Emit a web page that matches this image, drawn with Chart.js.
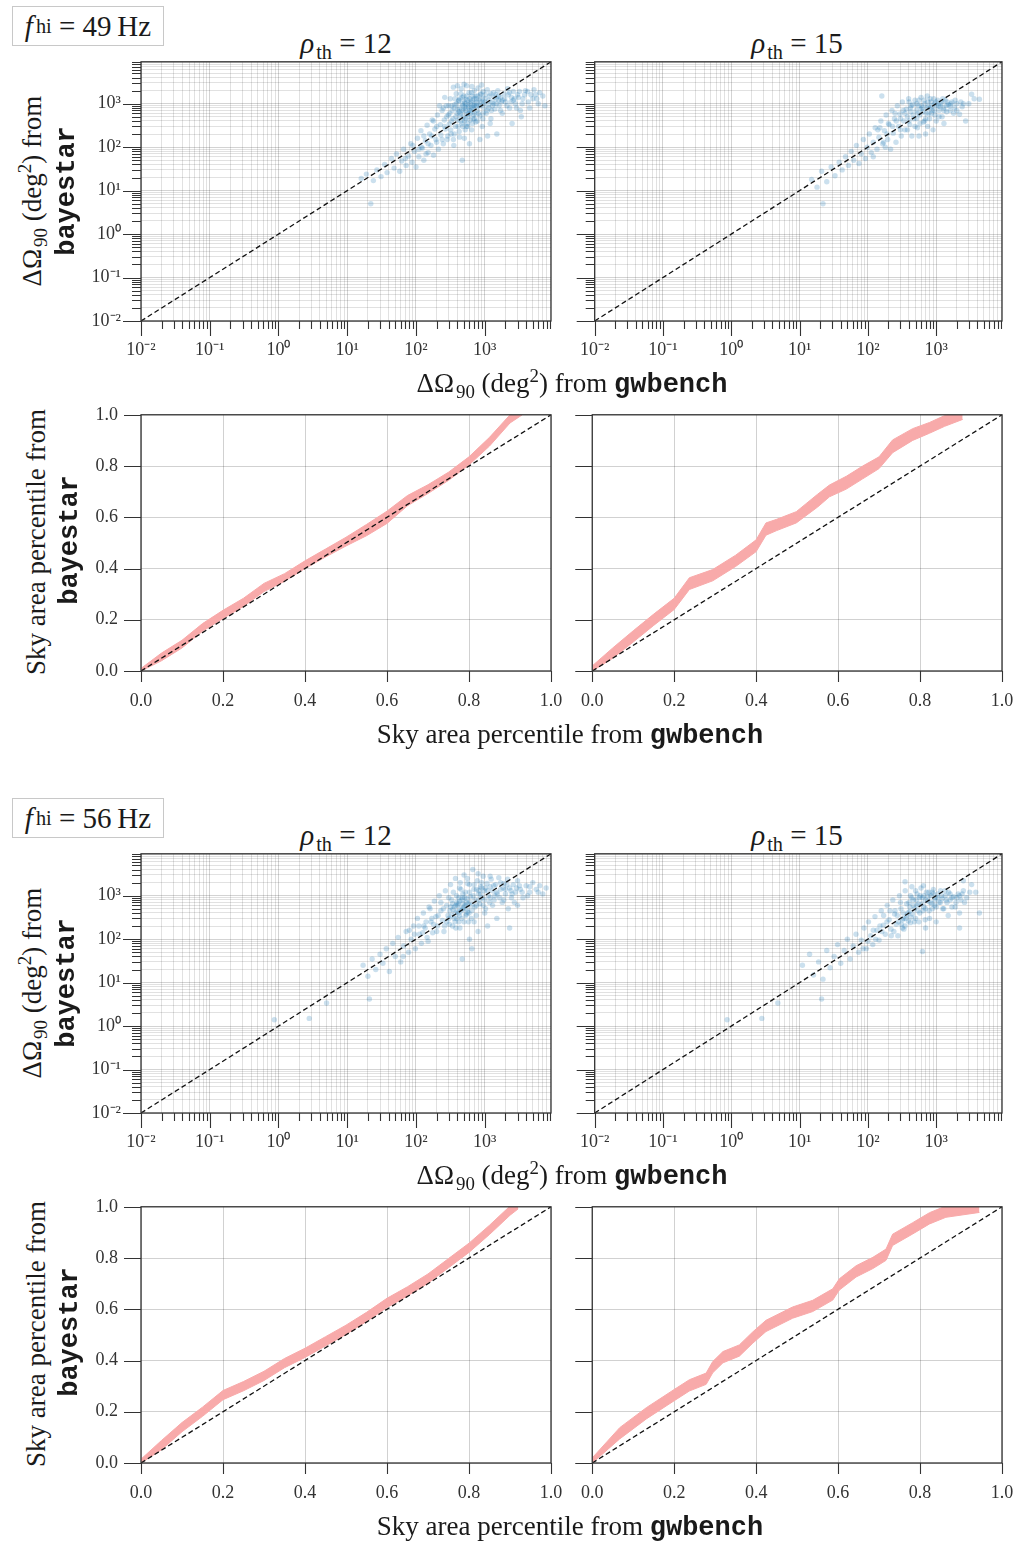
<!DOCTYPE html>
<html>
<head>
<meta charset="utf-8">
<script src="https://cdn.jsdelivr.net/npm/chart.js@4.4.1/dist/chart.umd.min.js"></script>
<style>
  body { margin: 0; background: #fff; }
  #fig { position: relative; width: 1016px; height: 1543px; overflow: hidden; background: #fff; }
  canvas { position: absolute; }
  .t { position: absolute; font-family: 'Liberation Serif', serif; font-size: 27px; color: #1a1a1a;
       white-space: nowrap; line-height: 1; transform: translate(-50%, -50%); }
  .ttl { font-size: 29px; }
  .rot { transform: translate(-50%, -50%) rotate(-90deg); }
  .tt { font-family: 'Liberation Mono', monospace; font-weight: bold; }
  .t sub { font-size: 70%; vertical-align: -0.3em; line-height: 0; margin-left: 2px; }
  .box sub { font-size: 70%; vertical-align: -0.3em; line-height: 0; margin-left: 3px; }
  .t sup { font-size: 70%; vertical-align: 0.5em; line-height: 0; }
  .box { position: absolute; border: 1px solid #c8c8c8; font-family: 'Liberation Serif', serif;
         font-size: 29px; color: #1a1a1a; display: flex; align-items: center; justify-content: center;
         line-height: 1; white-space: nowrap; background: #fff; }
</style>
</head>
<body>
<div id="fig"></div>
<script>
// ---- data ----
const fhiLabels = ['49', '56'];
const rhoLabels = ['12', '15'];
const logTickDecades = [0.01, 0.1, 1, 10, 100, 1000];
const logTickLabels = ['10\u207B\u00B2', '10\u207B\u00B9', '10\u2070', '10\u00B9', '10\u00B2', '10\u00B3'];
const logMultipliers = [1, 2, 3, 4, 5, 6, 7, 8, 9];
const logMin = 0.01;
const logMax = 9200;
const ppTicks = [0, 0.2, 0.4, 0.6, 0.8, 1.0];

// [gwbench, bayestar] sky areas (deg^2)
const sc49_12 = [
  [22,5],[16,19],[19,24],[24,17],[27,30],[31,21],[35,40],[38,26],[44,55],[48,33],[52,70],[58,28],[62,48],[66,90],
  [72,38],[78,62],[84,120],[88,45],[95,80],[100,35],[105,160],[110,60],[118,240],[124,95],[130,50],[137,140],
  [145,320],[150,75],[158,200],[165,110],[172,420],[180,65],[188,260],[195,150],[205,550],[212,90],[220,900],
  [226,330],[230,190],[240,700],[250,120],[258,420],[262,1400],[268,260],[275,900],[285,150],[295,550],[305,340],
  [315,1300],[325,200],[335,700],[345,450],[350,2400],[355,110],[365,950],[375,300],[385,1700],[395,600],
  [400,2600],[405,420],[415,1150],[425,230],[435,800],[445,520],[455,2200],[465,350],[470,50],[475,1000],
  [485,680],[495,1500],[500,2800],[505,160],[515,850],[525,450],[535,1250],[545,2600],[555,580],[565,300],
  [575,950],[590,1800],[600,700],[600,120],[615,420],[630,1100],[645,250],[650,2500],[660,1500],[675,800],
  [690,550],[705,2000],[720,1000],[740,380],[760,1300],[780,700],[800,2300],[820,900],[845,520],[850,150],
  [870,1600],[895,1100],[900,2700],[920,300],[950,1900],[980,800],[1010,1300],[1050,600],[1090,2100],
  [1100,180],[1130,950],[1180,1500],[1230,450],[1280,1100],[1340,1800],[1400,750],[1470,1300],[1500,200],
  [1550,2000],[1620,900],[1700,1400],[1800,600],[1900,1700],[2000,1100],[2150,2200],[2300,800],[2450,1400],
  [2500,350],[2600,1900],[2800,1000],[3000,1600],[3300,700],[3400,500],[3600,1300],[3900,2000],[4300,1100],
  [4700,1600],[5200,2100],[5700,1300],[6300,1800],[7000,1500],[7500,900],[420,650],[480,900],[530,700],
  [380,500],[560,1200],[620,600],[700,1300],[330,400],[440,1300],[510,400],[580,850],[680,450],[760,900],
  [310,600],[360,800],[410,300],[460,700],[520,1000],[570,500],[640,800],[720,600],[830,1200],[950,600],
  [1150,800],[1350,1000],[1600,1200],[2100,900],[2700,1300],[3500,1000],[4500,800],[260,300],[300,900],
  [390,1000],[450,400],[540,300],[610,1300],[700,900],[780,400],[880,1700],[1000,1100],[1250,700],
  [1450,1600],[1800,1200],[2400,1100],[3200,1900],[5000,1300],[6000,1000],[240,150],[200,300],[170,180],
  [140,70],[120,100],[350,150],[430,170],[520,250],[660,350],
  [420,1200],[440,600],[470,1400],[490,500],[510,1100],[530,800],[550,1500],[580,600],[610,1000],[630,700],
  [660,1200],[690,900],[730,1500],[770,1100],[810,600],[860,900],[910,1300],[960,1000],[1020,1600],[1080,700],
  [1150,1200],[1220,1700],[1300,900],[1380,1400],[1480,1000],[1580,1500],[1750,1100],[1950,1300],[2200,1600],
  [2600,1200],[3100,1400],[3800,1600],[4200,1900],[5500,1600],[330,900],[370,1300],[400,750],[450,1700],
  [480,300],[560,350],[640,1800],[710,450],[790,1500],[940,450],[1200,350],[1700,700],[2300,1800],[2900,800],
  [280,500],[320,250],[250,800],[290,180],[360,200],[200,130],[180,400],[150,120],[130,180],[110,90],[90,110],[70,55]
];
const sc49_15 = [
  [22,5],[15,18],[18,12],[21,28],[25,16],[29,35],[33,22],[38,45],[42,30],[47,60],[52,38],[57,80],[62,50],
  [68,110],[74,42],[80,70],[86,150],[92,55],[98,100],[105,200],[112,75],[120,130],[128,280],[136,90],[145,170],
  [155,400],[160,1500],[165,120],[175,240],[185,550],[195,150],[205,330],[215,90],[225,700],[235,210],[245,450],
  [258,130],[270,900],[282,300],[295,580],[308,180],[320,1100],[335,400],[350,250],[365,750],[380,500],
  [395,1300],[410,330],[425,650],[440,180],[455,950],[470,450],[490,1200],[510,700],[530,280],[550,900],
  [575,550],[600,1400],[625,800],[650,380],[680,1000],[710,600],[740,1500],[770,850],[800,450],[840,1100],
  [880,700],[920,1300],[960,550],[1000,900],[1050,1200],[1100,700],[1160,1000],[1220,500],[1280,800],
  [1350,1200],[1420,650],[1500,950],[1600,700],[1700,1100],[1850,800],[2000,1000],[2200,570],[2400,850],
  [1300,350],[900,250],[700,200],[3300,1650],[3600,1300],[4300,1270],[2700,400],
  [300,450],[380,250],[430,900],[520,450],[600,750],[680,400],[760,1100],[850,600],[950,1000],[1100,500],
  [1250,1300],[1400,900],[1650,1000],[2000,700],[2500,1000],[200,350],[250,600],[330,700],[560,1200],
  [820,800],[1150,850],[1800,600],[140,250],[180,100],[120,60],
  [350,600],[400,400],[420,800],[460,550],[490,300],[520,1000],[540,600],[580,350],[610,900],[640,650],
  [670,1200],[700,450],[730,800],[780,600],[820,1300],[870,900],[930,700],[990,1100],[1080,900],[1200,1100],
  [1300,700],[1450,1100],[1600,900],[1900,1200],[2300,1100],[3000,1000],[300,250],[260,400],[230,300],
  [190,200],[170,130],[150,280],[400,1100],[560,180],[750,300],[1000,400]
];
const sc56_12 = [
  [0.87,1.4],[2.8,1.5],[5,3.4],[21,4.2],[17,25],[20,14],[23,35],[26,20],[30,45],[33,28],[37,60],[41,18],
  [46,80],[50,40],[55,110],[60,30],[66,70],[72,150],[78,50],[85,100],[92,200],[98,60],[105,300],[112,130],
  [120,80],[128,400],[136,180],[145,110],[155,550],[165,250],[175,140],[185,750],[195,330],[205,200],
  [218,1000],[230,450],[242,270],[255,150],[268,1300],[280,600],[292,350],[305,220],[318,1800],[330,800],
  [345,480],[360,300],[375,2500],[390,1000],[405,600],[420,400],[435,180],[450,1400],[465,800],[470,35],
  [480,500],[500,3000],[520,1200],[540,700],[560,420],[580,250],[600,1800],[620,950],[645,600],[650,60],
  [670,4000],[695,1400],[720,800],[750,350],[780,2200],[810,1100],[840,650],[875,1600],[910,900],[950,2800],
  [990,1300],[1030,500],[1080,1900],[1130,1000],[1180,700],[1240,2400],[1300,1300],[1370,800],[1440,1800],
  [1520,1100],[1600,2600],[1700,1400],[1800,700],[1900,1900],[2000,1100],[2150,2400],[2300,1500],[2300,180],
  [2450,900],[2600,1800],[2800,1200],[3000,2200],[3300,1400],[3600,900],[4000,1700],[4500,1200],[5000,2000],
  [5600,1400],[6300,1700],[7000,1100],[7800,1500],[1500,300],[1100,200],[800,150],[600,100],[2200,500],
  [3000,600],[310,450],[340,650],[370,250],[400,440],[430,750],[460,300],[500,550],[530,350],[570,650],
  [380,180],[420,900],[480,1100],[550,500],[350,1200],
  [330,350],[360,550],[390,700],[420,250],[450,500],[480,650],[510,900],[540,380],[600,1200],[650,450],
  [700,1800],[760,600],[820,1300],[900,1500],[1000,800],[1200,1600],[1400,1000],[1700,2000],[2000,1400],
  [2500,1100],[3200,1700],[4200,1000],[250,500],[280,250],[300,900],[200,150],[170,300],[150,90],[130,200],
  [700,250],[1000,400],[1300,600],[1900,800],[2700,700],[560,2500],[800,3200],[440,2000],
  [300,300],[320,550],[340,200],[370,400],[390,300],[410,650],[430,350],[460,450],[470,900],[500,250],
  [520,600],[550,850],[590,400],[610,700],[640,300],[680,1000],[720,550],[760,1400],[820,800],[880,1100],
  [950,600],[1020,1500],[1100,1300],[1200,900],[1350,1700],[1500,1200],[1650,900],[1850,1500],[2100,1800],
  [2400,1300],[2900,1500],[3500,1200],[4500,1600],[6000,1200],[260,200],[230,700],[210,350],[180,220],
  [160,500],[140,250],[125,140],[110,200],[95,130],[80,160],[65,40],[430,1500],[560,1900],[900,2000],
  [1200,2800],[380,600]
];
const sc56_15 = [
  [0.87,1.4],[2.8,1.5],[4.8,3.4],[21,4.2],[11,25],[14,45],[16,15],[19,30],[22,12],[25,55],[28,22],[32,40],
  [36,75],[40,28],[45,55],[50,100],[55,35],[61,70],[67,130],[73,50],[80,95],[88,180],[95,60],[102,250],
  [110,120],[118,75],[127,330],[136,160],[146,95],[157,450],[168,210],[180,130],[192,600],[205,280],[218,170],
  [232,800],[246,380],[260,220],[275,120],[290,1000],[305,500],[320,280],[320,180],[336,170],[350,2100],
  [352,1300],[370,650],[388,400],[405,430],[420,240],[440,1600],[460,800],[480,500],[500,300],[525,1100],
  [550,650],[575,400],[600,1500],[630,900],[630,52],[660,550],[690,280],[720,1200],[755,750],[790,450],
  [830,1000],[870,650],[910,1400],[950,800],[1000,550],[1050,1100],[1100,700],[1160,1300],[1220,850],
  [1290,500],[1360,1000],[1440,700],[1520,1200],[1600,800],[1700,550],[1800,950],[1950,700],[2100,1100],
  [2200,180],[2300,800],[2500,1300],[2800,900],[3100,1200],[3300,1800],[3800,1200],[4300,400],[2200,400],
  [1500,350],[1000,250],[700,180],[2500,2200],
  [330,400],[360,300],[400,700],[450,380],[520,600],[570,900],[640,450],[700,800],[780,1200],[880,500],
  [980,900],[1150,700],[1350,1300],[1700,900],[2200,1000],[270,350],[240,150],[210,450],[300,700],[420,1000],
  [500,1300],[650,1700],[900,1100],[1250,500],[1900,550],[2600,700],[160,150],[130,100],
  [310,220],[330,300],[350,200],[370,350],[390,260],[410,550],[430,320],[460,600],[480,250],[510,800],
  [540,450],[580,1000],[620,650],[660,1000],[700,500],[760,950],[820,700],[880,1200],[950,600],[1050,900],
  [1200,1000],[1400,800],[1600,1100],[2000,900],[2400,1100],[280,250],[250,450],[220,120],[190,250],
  [170,350],[150,200],[120,160],[100,90],[85,60],[440,900],[560,250],[800,300]
];

// percentile bands: x, lower, upper
const pp49_12x  = [0, .05, .1, .15, .2, .25, .3, .35, .4, .45, .5, .55, .6, .65, .7, .75, .8, .85, .9, .93];
const pp49_12lo = [0, .04, .09, .155, .205, .252, .31, .35, .4, .445, .488, .528, .576, .645, .693, .744, .804, .878, .968, 1.0];
const pp49_12hi = [.01, .07, .12, .185, .237, .284, .342, .38, .43, .476, .522, .572, .624, .685, .727, .776, .836, .912, 1.0, 1.04];

const pp49_15x  = [0, .05, .1, .15, .2, .237, .294, .35, .4, .424, .45, .498, .55, .579, .62, .66, .70, .733, .782, .823, .86, .904];
const pp49_15lo = [0, .05, .113, .178, .24, .318, .352, .408, .466, .53, .548, .578, .64, .68, .71, .75, .79, .852, .9, .928, .955, .982];
const pp49_15hi = [.02, .09, .157, .222, .284, .364, .396, .452, .512, .578, .592, .622, .69, .726, .76, .8, .836, .902, .946, .97, .997, 1.02];

const pp56_12x  = [0, .05, .1, .15, .2, .25, .3, .35, .4, .45, .5, .55, .6, .65, .7, .75, .8, .85, .9, .92];
const pp56_12lo = [0, .052, .122, .182, .247, .282, .322, .372, .412, .457, .502, .552, .607, .652, .702, .762, .822, .892, .967, .992];
const pp56_12hi = [.015, .088, .158, .218, .283, .318, .358, .408, .448, .493, .538, .588, .643, .688, .738, .798, .858, .928, 1.003, 1.03];

const pp56_15x  = [0, .067, .132, .2, .237, .278, .294, .319, .359, .392, .424, .489, .538, .587, .603, .644, .685, .717, .733, .782, .823, .863, .945];
const pp56_15lo = [0, .094, .172, .243, .281, .307, .352, .391, .417, .468, .513, .565, .591, .636, .675, .726, .759, .791, .849, .894, .933, .959, .978];
const pp56_15hi = [.02, .138, .216, .287, .325, .351, .396, .435, .461, .512, .557, .609, .635, .68, .719, .77, .803, .835, .893, .938, .977, 1.003, 1.022];

// ---- styling ----
const BAND = 'rgb(248,170,170)';
const DOT = 'rgba(31,119,180,0.23)';
const tickFont = { family: "'Liberation Serif', serif", size: 18 };
Chart.defaults.font.family = "'Liberation Serif', serif";

const fig = document.getElementById('fig');

// frame + tick marks (major/minor lengths differ)
const frameTicks = {
  id: 'frameTicks',
  afterDraw(chart, args, o) {
    const { ctx, chartArea: a, scales } = chart;
    ctx.save();
    ctx.strokeStyle = '#333';
    ctx.lineWidth = 1.1;
    ctx.beginPath();
    scales.x.ticks.forEach(t => {
      const px = Math.round(scales.x.getPixelForValue(t.value)) + 0.5;
      const len = t.major ? o.xMajor : o.xMinor;
      ctx.moveTo(px, a.bottom); ctx.lineTo(px, a.bottom + len);
    });
    scales.y.ticks.forEach(t => {
      const py = Math.round(scales.y.getPixelForValue(t.value)) + 0.5;
      const len = t.major ? o.yMajor : o.yMinor;
      ctx.moveTo(a.left, py); ctx.lineTo(a.left - len, py);
    });
    ctx.stroke();
    ctx.lineWidth = 1.3;
    ctx.strokeRect(a.left, a.top, a.right - a.left, a.bottom - a.top);
    ctx.restore();
  }
};

function setLogTicks(scale) {
  const t = [];
  logTickDecades.forEach(d => logMultipliers.forEach(m => {
    const v = +(d * m).toPrecision(6);
    if (v <= scale.max) t.push({ value: v, major: m === 1 });
  }));
  scale.ticks = t;
}
function logLabel(value) {
  const i = logTickDecades.findIndex(d => Math.abs(d - value) < d * 1e-6);
  return i >= 0 ? logTickLabels[i] : '';
}

function addCanvas(left, top, w, h) {
  const c = document.createElement('canvas');
  c.width = w; c.height = h;
  c.style.left = left + 'px'; c.style.top = top + 'px';
  c.style.width = w + 'px'; c.style.height = h + 'px';
  fig.appendChild(c);
  return c;
}

const PLOT_W = 410, PLOT_H = 260, PAD_T = 30, PAD_R = 40, X_H = 48;
const panelLeft = [141, 592];
const axisW = [72, 30];

// nudge layout padding until the plot box sits exactly where the figure has it
function fitArea(chart, col) {
  const want = { left: axisW[col], top: PAD_T, right: axisW[col] + PLOT_W, bottom: PAD_T + PLOT_H };
  for (let k = 0; k < 4; k++) {
    const a = chart.chartArea, p = chart.options.layout.padding;
    const dt = a.top - want.top, dr = want.right - a.right, dl = a.left - want.left, db = want.bottom - a.bottom;
    if (Math.abs(dt) < 0.5 && Math.abs(dr) < 0.5 && Math.abs(dl) < 0.5 && Math.abs(db) < 0.5) break;
    p.top -= dt; p.right -= dr; p.left -= dl; p.bottom -= db;
    chart.update('none');
  }
}

function panelCanvas(col, top) {
  return addCanvas(panelLeft[col] - axisW[col], top - PAD_T, axisW[col] + PLOT_W + PAD_R, PAD_T + PLOT_H + X_H);
}

function scatterPanel(col, top, pts) {
  const el = panelCanvas(col, top);
  const showY = col === 0;
  const grid = {
    color: c => (c.tick && c.tick.major) ? 'rgba(0,0,0,0.22)' : 'rgba(0,0,0,0.15)',
    lineWidth: 0.8, drawTicks: false
  };
  const chart = new Chart(el, {
    type: 'scatter',
    data: {
      datasets: [
        { data: [{ x: logMin, y: logMin }, { x: logMax, y: logMax }], showLine: true, borderColor: '#111',
          borderWidth: 1.3, borderDash: [5, 3], pointRadius: 0 },
        { data: pts.map(p => ({ x: p[0], y: p[1] })), pointRadius: 2.7, pointBackgroundColor: DOT,
          pointBorderWidth: 0, showLine: false }
      ]
    },
    options: {
      responsive: false, animation: false, events: [],
      layout: { padding: { top: PAD_T, right: PAD_R, left: 0, bottom: 0 } },
      plugins: { legend: { display: false }, tooltip: { enabled: false },
                 frameTicks: { xMajor: 15, xMinor: 8, yMajor: 18, yMinor: 9 } },
      scales: {
        x: { type: 'logarithmic', min: logMin, max: logMax, afterBuildTicks: setLogTicks,
             afterFit: s => { s.height = X_H; },
             ticks: { autoSkip: false, maxRotation: 0, padding: 18, font: tickFont, color: '#333', callback: logLabel },
             grid: grid, border: { display: false } },
        y: { type: 'logarithmic', min: logMin, max: logMax, afterBuildTicks: setLogTicks,
             afterFit: s => { s.width = axisW[col]; },
             ticks: { autoSkip: false, padding: 20, font: tickFont, color: '#333',
                      callback: v => showY ? logLabel(v) : '' },
             grid: grid, border: { display: false } }
      }
    },
    plugins: [frameTicks]
  });
  fitArea(chart, col);
}

function ppPanel(col, top, xs, lo, hi) {
  const el = panelCanvas(col, top);
  const showY = col === 0;
  const grid = { color: 'rgba(0,0,0,0.18)', lineWidth: 1, drawTicks: false };
  const ticksCfg = { font: tickFont, color: '#333', autoSkip: false, maxRotation: 0 };
  const setTicks = s => { s.ticks = ppTicks.map(v => ({ value: v, major: true })); };
  const chart = new Chart(el, {
    type: 'line',
    data: {
      datasets: [
        { data: [{ x: 0, y: 0 }, { x: 1, y: 1 }], borderColor: '#111', borderWidth: 1.3, borderDash: [5, 3],
          pointRadius: 0, fill: false },
        { data: xs.map((x, i) => ({ x, y: hi[i] })), borderColor: BAND, borderWidth: 1, backgroundColor: BAND,
          pointRadius: 0, fill: '+1', tension: 0 },
        { data: xs.map((x, i) => ({ x, y: lo[i] })), borderColor: BAND, borderWidth: 1,
          pointRadius: 0, fill: false, tension: 0 }
      ]
    },
    options: {
      responsive: false, animation: false, events: [],
      layout: { padding: { top: PAD_T, right: PAD_R, left: 0, bottom: 0 } },
      plugins: { legend: { display: false }, tooltip: { enabled: false },
                 frameTicks: { xMajor: 11, xMinor: 11, yMajor: 17, yMinor: 17 } },
      scales: {
        x: { type: 'linear', min: 0, max: 1, afterBuildTicks: setTicks, afterFit: s => { s.height = X_H; },
             ticks: Object.assign({ padding: 19, callback: v => v.toFixed(1) }, ticksCfg),
             grid: grid, border: { display: false } },
        y: { type: 'linear', min: 0, max: 1, afterBuildTicks: setTicks, afterFit: s => { s.width = axisW[col]; },
             ticks: Object.assign({ padding: 23, callback: v => showY ? v.toFixed(1) : '' }, ticksCfg),
             grid: grid, border: { display: false } }
      }
    },
    plugins: [frameTicks]
  });
  fitArea(chart, col);
}

function addText(html, x, y, cls) {
  const d = document.createElement('div');
  d.className = 't' + (cls ? ' ' + cls : '');
  d.style.left = x + 'px'; d.style.top = y + 'px';
  d.innerHTML = html;
  fig.appendChild(d);
}

const groupTop = [0, 792];
const scatterData = [[sc49_12, sc49_15], [sc56_12, sc56_15]];
const ppData = [
  [[pp49_12x, pp49_12lo, pp49_12hi], [pp49_15x, pp49_15lo, pp49_15hi]],
  [[pp56_12x, pp56_12lo, pp56_12hi], [pp56_15x, pp56_15lo, pp56_15hi]]
];

groupTop.forEach((g, gi) => {
  // f_hi box
  const box = document.createElement('div');
  box.className = 'box';
  box.style.left = '12px'; box.style.top = (6 + g) + 'px';
  box.style.width = '150px'; box.style.height = '38px';
  box.innerHTML = '<i>f</i><sub>hi</sub>&nbsp;=&nbsp;' + fhiLabels[gi] + '&thinsp;Hz';
  fig.appendChild(box);

  // column titles
  addText('<i>\u03C1</i><sub>th</sub>&nbsp;=&nbsp;' + rhoLabels[0], 346, 43 + g, 'ttl');
  addText('<i>\u03C1</i><sub>th</sub>&nbsp;=&nbsp;' + rhoLabels[1], 797, 43 + g, 'ttl');

  scatterPanel(0, 61 + g, scatterData[gi][0]);
  scatterPanel(1, 61 + g, scatterData[gi][1]);
  ppPanel(0, 411 + g, ...ppData[gi][0]);
  ppPanel(1, 411 + g, ...ppData[gi][1]);

  // axis labels
  addText('\u0394\u03A9<sub>90</sub> (deg<sup>2</sup>) from', 32, 191 + g, 'rot');
  addText('<span class="tt">bayestar</span>', 66, 191 + g, 'rot');
  addText('\u0394\u03A9<sub>90</sub> (deg<sup>2</sup>) from <span class="tt">gwbench</span>', 572, 384 + g);
  addText('Sky area percentile from', 36, 542 + g, 'rot');
  addText('<span class="tt">bayestar</span>', 69, 540 + g, 'rot');
  addText('Sky area percentile from <span class="tt">gwbench</span>', 570, 735 + g);
});
</script>
</body>
</html>
